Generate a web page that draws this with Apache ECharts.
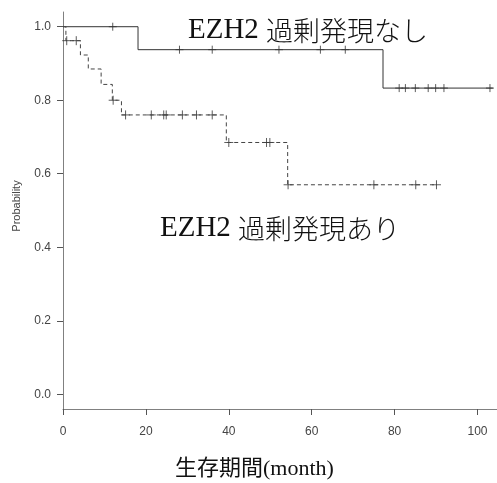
<!DOCTYPE html>
<html><head><meta charset="utf-8">
<script src="https://cdn.jsdelivr.net/npm/echarts@6/dist/echarts.min.js"></script>
<style>html,body{margin:0;padding:0;background:#fff}#c{width:497px;height:483px}</style>
</head><body><div id="c"></div>
<script>
// Group without EZH2 overexpression (solid)
const noTimes   = [0, 18.1, 77.2, 103.7];
const noSurv    = [1.0, 0.9375, 0.833, 0.833];
const noCensor  = [12.0, 28.1, 36.0, 52.1, 62.1, 68.1, 81.1, 82.6, 85.0, 88.1, 89.9, 91.9, 103.0];
// Group with EZH2 overexpression (dashed)
const yesTimes  = [0, 0.7, 4.2, 6.1, 9.2, 11.9, 14.1, 39.4, 54.2, 90.1];
const yesSurv   = [1.0, 0.962, 0.923, 0.885, 0.843, 0.80, 0.76, 0.685, 0.570, 0.570];
const yesCensor = [0.9, 3.2, 12.1, 15.1, 21.3, 24.3, 24.9, 28.8, 32.2, 36.0, 40.0, 49.1, 49.9, 54.3, 75.0, 85.1, 90.1];
const xTicks = [0, 20, 40, 60, 80, 100];
const yTicks = [0, 0.2, 0.4, 0.6, 0.8, 1.0];
const labelGene = 'EZH2';
const labelNo  = '過剰発現なし';
const labelYes = '過剰発現あり';
const xTitle = '生存期間(month)';
const yTitle = 'Probability';

function levelAt(times, surv, t){ let s = surv[0]; for (let i=0;i<times.length;i++){ if (times[i] <= t) s = surv[i]; } return s; }
const pairs = (ts, ss) => ts.map((t,i)=>[t, ss[i]]);
const cens = (cs, ts, ss) => cs.map(t=>[t, levelAt(ts, ss, t)]);

const plus = 'path://M5,0L5,10M0,5L10,5';
const chart = echarts.init(document.getElementById('c'), null, {renderer:'canvas'});
const axisCol = '#808080';
const serif = '"Liberation Serif","DejaVu Serif","Noto Sans CJK JP",serif';
const cjk = '"Noto Sans CJK JP",serif';
const rich = {g:{fontSize:29, fontFamily:serif, fill:'#111'}, j:{fontSize:27, fontFamily:cjk, fontWeight:300, fill:'#111'}};
chart.setOption({
  animation:false,
  grid:{left:63, top:12, width:434, height:397},
  xAxis:{type:'value', min:0, max:104.7,
    axisLine:{show:true, onZero:false, lineStyle:{color:axisCol, width:1}},
    axisTick:{show:true, customValues:xTicks, length:6, lineStyle:{color:'#555'}},
    axisLabel:{customValues:xTicks, color:'#444', fontSize:12, fontFamily:'Liberation Sans, Arial, sans-serif', margin:17},
    splitLine:{show:false}},
  yAxis:{type:'value', min:-0.04, max:1.04,
    axisLine:{show:true, onZero:false, lineStyle:{color:axisCol, width:1}},
    axisTick:{show:true, customValues:yTicks, length:6, lineStyle:{color:'#555'}},
    axisLabel:{customValues:yTicks, color:'#444', fontSize:12, fontFamily:'Liberation Sans, Arial, sans-serif', margin:12, formatter:v=>v.toFixed(1)},
    splitLine:{show:false}},
  series:[
    {type:'line', step:'end', data:pairs(noTimes,noSurv), showSymbol:false, lineStyle:{color:'#333', width:1}},
    {type:'line', step:'end', data:pairs(yesTimes,yesSurv), showSymbol:false, lineStyle:{color:'#444', width:1, type:[4,3]}},
    {type:'scatter', data:cens(noCensor,noTimes,noSurv), symbol:plus, symbolSize:8, itemStyle:{color:'none', borderColor:'#333', borderWidth:1}},
    {type:'scatter', data:cens(yesCensor,yesTimes,yesSurv), symbol:plus, symbolSize:9, itemStyle:{color:'none', borderColor:'#333', borderWidth:1}}
  ],
  graphic:[
    {type:'text', left:188, top:16, style:{text:'{g|'+labelGene+' }{j|'+labelNo+'}', rich:rich}},
    {type:'text', left:160, top:214, style:{text:'{g|'+labelGene+' }{j|'+labelYes+'}', rich:rich}},
    {type:'text', left:175, top:458, style:{text:xTitle, fontSize:22, fontFamily:serif, fill:'#111'}},
    {type:'text', x:11, y:206, rotation:Math.PI/2, style:{text:yTitle, fontSize:11, fontFamily:'Liberation Sans, Arial, sans-serif', fill:'#444', align:'center', verticalAlign:'top'}}
  ]
});
</script></body></html>
